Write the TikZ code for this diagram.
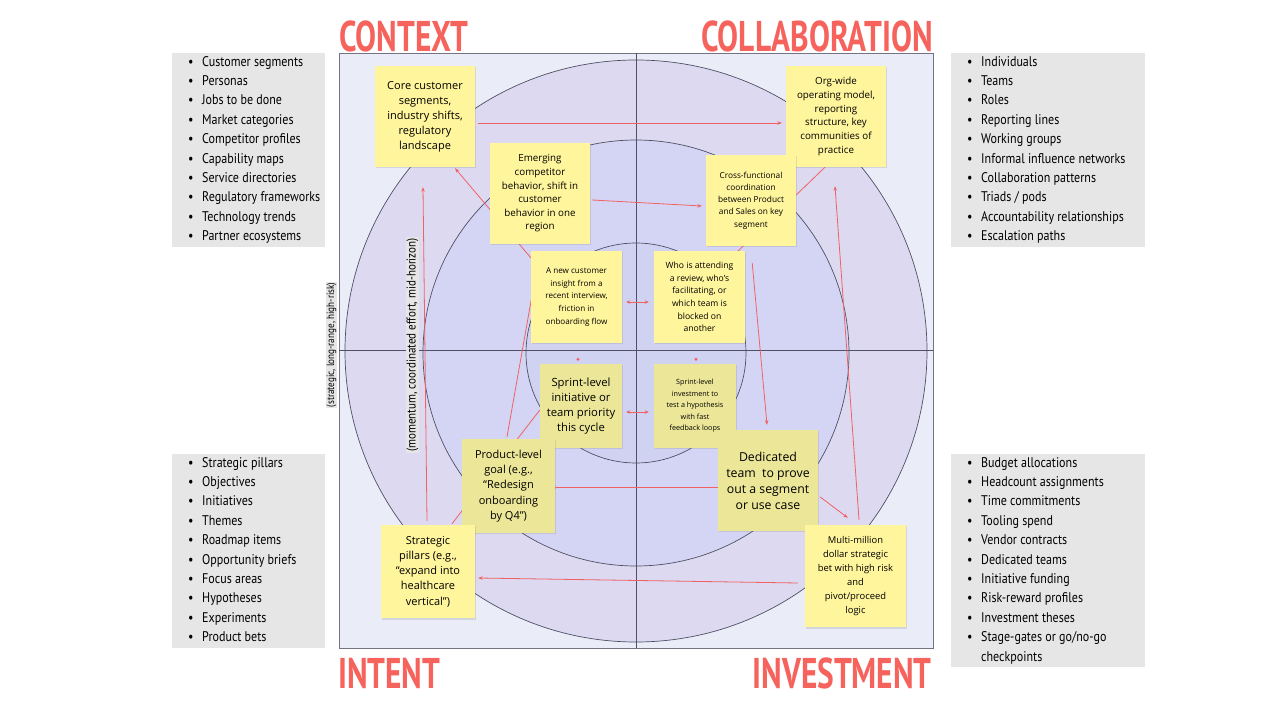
\documentclass[tikz,border=0pt]{standalone}
\usepackage{fontspec}
\setmainfont{Open Sans}
\newfontfamily\listfam[FakeStretch=0.86]{PT Sans}
\newfontfamily\headfam[FakeStretch=0.73]{PT Sans}
\usetikzlibrary{arrows.meta,shadows}

\definecolor{notebright}{RGB}{255,245,157}
\definecolor{notedim}{RGB}{236,231,152}
\definecolor{flowred}{RGB}{240,98,98}
\definecolor{titlered}{RGB}{246,99,92}
\definecolor{listgray}{RGB}{230,230,230}
\definecolor{fieldbg}{RGB}{234,237,248}
\definecolor{ringout}{RGB}{220,217,241}
\definecolor{ringmid}{RGB}{212,213,244}
\definecolor{ringin}{RGB}{208,210,242}
\definecolor{axisgray}{RGB}{80,80,100}

\newcommand\notesize[2]{\fontsize{#1}{#2}\selectfont}
\newcommand\bul{\makebox[14pt][l]{\textbullet}}

\pgfdeclarelayer{bg}
\pgfdeclarelayer{flows}
\pgfsetlayers{bg,flows,main}

\tikzset{
  note/.style={fill=notebright, align=center, inner sep=0pt,
    drop shadow={shadow xshift=1pt, shadow yshift=-1.5pt, opacity=0.22}},
  dimnote/.style={note, fill=notedim},
  flow/.style={draw=flowred, line width=0.8pt},
  tip/.style={-{Stealth[length=4.5pt,width=3.5pt]}},
  ring/.style={draw=axisgray, line width=0.7pt},
  axis/.style={draw=axisgray, line width=0.8pt},
  listtext/.style={align=left, anchor=north west, inner sep=0pt,
    font=\listfam\notesize{14}{19.4}},
  quadtitle/.style={text=titlered, inner sep=0pt,
    font=\headfam\bfseries\notesize{43}{43}},
  sidelabel/.style={rotate=90, fill=listgray, inner sep=1pt}
}

\begin{document}
\begin{tikzpicture}[x=1pt,y=-1pt]
\useasboundingbox (0,0) rectangle (1262,708);

\begin{pgfonlayer}{bg}
% field and rings
\draw[fill=fieldbg, draw=axisgray!80, line width=0.8pt] (339,53) rectangle (933,648);
\draw[ring, fill=ringout] (636,351) circle (291);
\draw[ring, fill=ringmid] (636,353) circle (213);
\draw[ring, fill=ringin] (636,353) circle (110);
\draw[axis] (636,53) -- (636,648);
\draw[axis] (339,350) -- (933,350);
% horizon labels
\node[sidelabel, font=\listfam\notesize{10.6}{12}] (longlabel) at (331.5,345)
  {(strategic, long-range, high-risk)};
\node[sidelabel, font=\listfam\notesize{12.8}{14}] (midlabel) at (412.5,345)
  {(momentum, coordinated effort, mid-horizon)};
\end{pgfonlayer}

% quadrant titles
\node[quadtitle, anchor=base west] (ctxtitle) at (339,52) {CONTEXT};
\node[quadtitle, anchor=base east] (collabtitle) at (933,52) {COLLABORATION};
\node[quadtitle, anchor=base west] (intenttitle) at (338,688) {INTENT};
\node[quadtitle, anchor=base east] (investtitle) at (932,688) {INVESTMENT};

% side lists
\fill[listgray] (172,53) rectangle (325,247);
\node[listtext] (ctxlist) at (188,56) {\bul Customer segments\\\bul Personas\\
  \bul Jobs to be done\\\bul Market categories\\\bul Competitor profiles\\
  \bul Capability maps\\\bul Service directories\\\bul Regulatory frameworks\\
  \bul Technology trends\\\bul Partner ecosystems};
\fill[listgray] (951,53) rectangle (1145,247);
\node[listtext] (collablist) at (967,56) {\bul Individuals\\\bul Teams\\
  \bul Roles\\\bul Reporting lines\\\bul Working groups\\
  \bul Informal influence networks\\\bul Collaboration patterns\\
  \bul Triads / pods\\\bul Accountability relationships\\\bul Escalation paths};
\fill[listgray] (172,454) rectangle (325,648);
\node[listtext] (intentlist) at (188,457) {\bul Strategic pillars\\\bul Objectives\\
  \bul Initiatives\\\bul Themes\\\bul Roadmap items\\\bul Opportunity briefs\\
  \bul Focus areas\\\bul Hypotheses\\\bul Experiments\\\bul Product bets};
\fill[listgray] (951,454) rectangle (1145,667);
\node[listtext] (investlist) at (967,457) {\bul Budget allocations\\
  \bul Headcount assignments\\\bul Time commitments\\\bul Tooling spend\\
  \bul Vendor contracts\\\bul Dedicated teams\\\bul Initiative funding\\
  \bul Risk-reward profiles\\\bul Investment theses\\
  \bul Stage-gates or go/no-go\\\hspace*{14pt}checkpoints};

% outer ring notes
\node[note, minimum width=100pt, minimum height=101pt, font=\notesize{11}{15}]
  (core) at (425,116.5) {Core customer\\segments,\\industry shifts,\\regulatory\\landscape};
\node[note, minimum width=100pt, minimum height=101pt, font=\notesize{9.8}{13.8}]
  (orgwide) at (836,116.5) {Org-wide\\operating model,\\reporting\\structure, key\\communities of\\practice};
% middle ring notes
\node[note, minimum width=100pt, minimum height=101pt, font=\notesize{9.8}{13.6}]
  (emerging) at (540,193.5) {Emerging\\competitor\\behavior, shift in\\customer\\behavior in one\\region};
\node[note, minimum width=90pt, minimum height=91pt, font=\notesize{8.3}{12.3}]
  (crossfn) at (751,200.5) {Cross-functional\\coordination\\between Product\\and Sales on key\\segment};
% inner ring notes
\node[note, minimum width=91pt, minimum height=92pt, font=\notesize{8.1}{12.8}]
  (newinsight) at (576.5,297) {A new customer\\insight from a\\recent interview,\\friction in\\onboarding flow};
\node[note, minimum width=91pt, minimum height=92pt, font=\notesize{8.6}{12.6}]
  (attending) at (699.5,297) {Who is attending\\a review, who's\\facilitating, or\\which team is\\blocked on\\another};
\node[dimnote, minimum width=82pt, minimum height=84pt, font=\notesize{11.3}{15}]
  (sprintinit) at (581,406) {Sprint-level\\initiative or\\team priority\\this cycle};
\node[dimnote, minimum width=82pt, minimum height=84pt, font=\notesize{7.2}{11.5}]
  (sprintinv) at (695,406) {Sprint-level\\investment to\\test a hypothesis\\with fast\\feedback loops};
% lower notes
\node[dimnote, minimum width=93pt, minimum height=94pt, font=\notesize{11}{15.3}]
  (prodgoal) at (508.5,486) {Product-level\\goal (e.g.,\\“Redesign\\onboarding\\by Q4”)};
\node[dimnote, minimum width=100pt, minimum height=101pt, font=\notesize{12.3}{16}]
  (dedicated) at (768,480.5) {Dedicated\\team~ to prove\\out a segment\\or use case};
\node[note, minimum width=94pt, minimum height=93pt, font=\notesize{11}{15.2}]
  (pillars) at (428,571.5) {Strategic\\pillars (e.g.,\\“expand into\\healthcare\\vertical”)};
\node[note, minimum width=101pt, minimum height=102pt, font=\notesize{9.4}{14}]
  (multimil) at (855.5,576) {Multi-million\\dollar strategic\\bet with high risk\\and\\pivot/proceed\\logic};

% connectors
\begin{pgfonlayer}{flows}
\draw[flow, tip] ([xshift=3pt,yshift=-6.5pt]core.east) -- ([xshift=-4pt,yshift=-6.5pt]orgwide.west);
\draw[flow, tip] ([xshift=2pt,yshift=-6.5pt]emerging.east) -- ([xshift=-4pt,yshift=-5.5pt]crossfn.west);
\draw[flow, tip] ([yshift=-7pt]newinsight.north west) -- ([xshift=30pt,yshift=-1pt]core.south);
\draw[flow] ([xshift=-8pt,yshift=-1pt]attending.north east) -- ([xshift=-11pt]orgwide.south);
\draw[flow, {Stealth[length=4pt,width=3.5pt]}-{Stealth[length=4pt,width=3.5pt]}]
  ([xshift=4pt,yshift=-5pt]newinsight.east) -- ([xshift=-5pt,yshift=-5pt]attending.west);
\draw[flow, {Stealth[length=4pt,width=3.5pt]}-{Stealth[length=4pt,width=3.5pt]}]
  ([xshift=4pt,yshift=-6pt]sprintinit.east) -- ([xshift=-5pt,yshift=-6pt]sprintinv.west);
\draw[flow, tip] ([xshift=7pt,yshift=-12pt]attending.north east) -- ([xshift=-1pt,yshift=5pt]dedicated.north);
\draw[flow, tip] ([xshift=3.5pt,yshift=5pt]multimil.north) -- ([xshift=-1pt,yshift=-19pt]orgwide.south);
\draw[flow, tip] ([xshift=2pt,yshift=-16.5pt]dedicated.east) -- ([xshift=43pt,yshift=7pt]multimil.north west);
\draw[flow, tip] ([yshift=-6.5pt]dedicated.west) -- ([xshift=-4pt,yshift=-1pt]prodgoal.east);
\draw[flow, tip] ([xshift=-7pt,yshift=-7pt]multimil.west) -- ([xshift=3pt,yshift=-6.5pt]pillars.east);
\draw[flow, tip] ([xshift=-1pt,yshift=4pt]pillars.north) -- ([xshift=-2pt,yshift=-20pt]core.south);
\draw[flow] ([xshift=24pt,yshift=1pt]pillars.north) -- ([yshift=-4pt]sprintinit.west);
\draw[flow, tip] ([xshift=-1.5pt,yshift=2pt]prodgoal.north) -- ([xshift=7pt,yshift=-12pt]newinsight.north west);
\fill[flowred] ([xshift=1.5pt,yshift=-16pt]newinsight.south) circle (1.6);
\fill[flowred] ([xshift=-3.5pt,yshift=-16pt]attending.south) circle (1.6);
\end{pgfonlayer}
\end{tikzpicture}
\end{document}
